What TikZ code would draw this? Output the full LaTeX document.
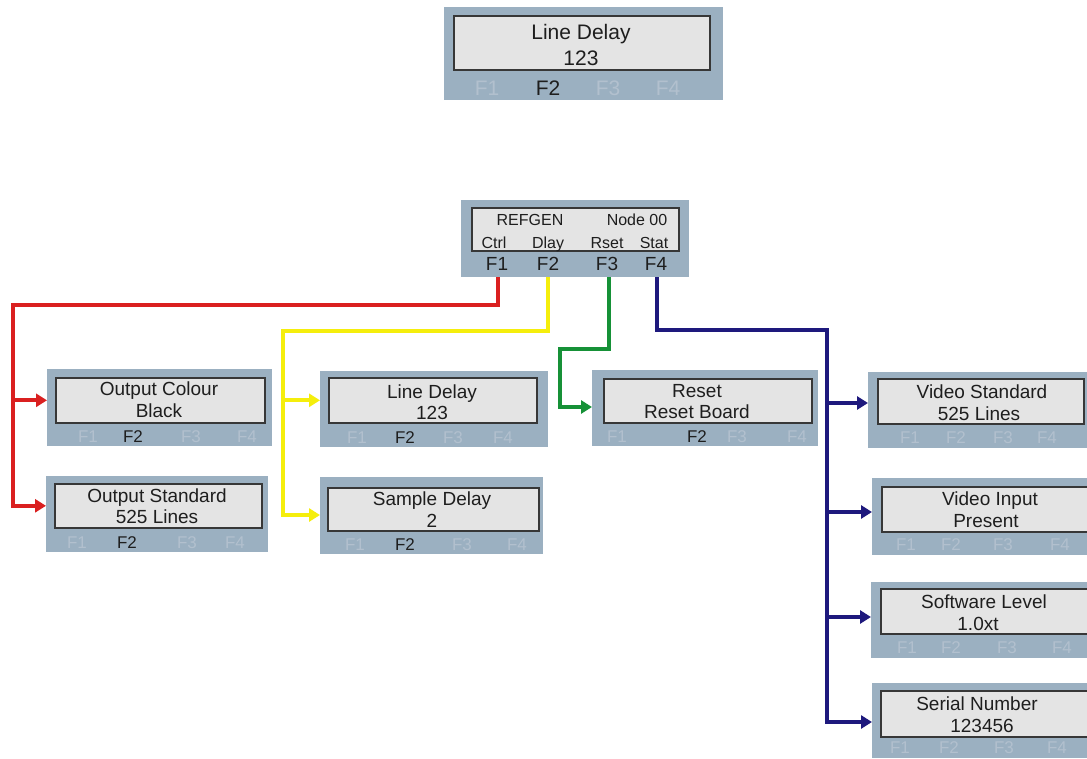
\documentclass[tikz,border=0pt]{standalone}
\usepackage{fontspec}
\setmainfont{Liberation Sans}
\usetikzlibrary{arrows.meta}
\definecolor{panelbg}{RGB}{155,176,193}
\definecolor{screenbg}{RGB}{228,228,228}
\definecolor{screenline}{RGB}{55,55,55}
\definecolor{textc}{RGB}{30,30,30}
\definecolor{fdim}{RGB}{178,192,206}
\definecolor{redc}{RGB}{218,32,32}
\definecolor{yelc}{RGB}{245,238,12}
\definecolor{grnc}{RGB}{22,145,55}
\definecolor{bluc}{RGB}{30,25,125}
\tikzset{
  outer/.style={fill=panelbg, draw=none, anchor=north west, inner sep=0pt},
  screen/.style={fill=screenbg, draw=screenline, line width=1.6pt, anchor=north west, inner sep=0pt},
  txt/.style={font=\fontsize{19}{19}\selectfont, text=textc, inner sep=0pt, anchor=base},
  bigtxt/.style={font=\fontsize{21}{21}\selectfont, text=textc, inner sep=0pt, anchor=base},
  fon/.style={font=\fontsize{17}{17}\selectfont, text=textc, inner sep=0pt, anchor=base},
  foff/.style={font=\fontsize{17}{17}\selectfont, text=fdim, inner sep=0pt, anchor=base},
  bigfon/.style={font=\fontsize{21}{21}\selectfont, text=textc, inner sep=0pt, anchor=base},
  bigfoff/.style={font=\fontsize{21}{21}\selectfont, text=fdim, inner sep=0pt, anchor=base},
  rgtxt/.style={font=\fontsize{16}{16}\selectfont, text=textc, inner sep=0pt, anchor=base},
  rgf/.style={font=\fontsize{19}{19}\selectfont, text=textc, inner sep=0pt, anchor=base},
  link/.style={line width=4pt, -{Triangle[length=11pt,width=13pt]}},
}
\newcommand\panelbox[9]{%
  \node[outer, minimum width=#4pt, minimum height=#5pt] (#1) at (#2,#3) {};
  \node[screen, minimum width=#8pt, minimum height=#9pt] (#1s) at (#6,#7) {};}
\begin{document}
\begin{tikzpicture}[x=1pt,y=-1pt]
\useasboundingbox (0,0) rectangle (1087,758);
\fill[white] (0,0) rectangle (1087,758);

% top panel
\panelbox{top}{444}{7}{279}{93}{453}{15}{256}{54}
\node[bigtxt] (topa) at (581,39) {Line Delay};
\node[bigtxt] (topb) at (581,65) {123};
\node[bigfoff] (topf1) at (487,95) {F1};
\node[bigfon] (topf2) at (548,95) {F2};
\node[bigfoff] (topf3) at (608,95) {F3};
\node[bigfoff] (topf4) at (668,95) {F4};

% REFGEN panel
\panelbox{rg}{461}{200}{228}{77}{471}{207}{207}{43}
\node[rgtxt] (rga) at (530,225) {REFGEN};
\node[rgtxt] (rgb) at (637,225) {Node 00};
\node[rgtxt] (rgc) at (494,248) {Ctrl};
\node[rgtxt] (rgd) at (548,248) {Dlay};
\node[rgtxt] (rge) at (607,248) {Rset};
\node[rgtxt] (rgg) at (654,248) {Stat};
\node[rgf] (rf1) at (497,270) {F1};
\node[rgf] (rf2) at (548,270) {F2};
\node[rgf] (rf3) at (607,270) {F3};
\node[rgf] (rf4) at (656,270) {F4};

% Output Colour
\panelbox{oc}{47}{369}{225}{77}{55}{377}{209}{45}
\node[txt] (oca) at (159,395) {Output Colour};
\node[txt] (ocb) at (159,417) {Black};
\node[foff] (ocf1) at (88,442) {F1};
\node[fon] (ocf2) at (133,442) {F2};
\node[foff] (ocf3) at (191,442) {F3};
\node[foff] (ocf4) at (247,442) {F4};

% Output Standard
\panelbox{os}{46}{476}{222}{76}{54}{483}{207}{44}
\node[txt] (osa) at (157,502) {Output Standard};
\node[txt] (osb) at (157,523) {525 Lines};
\node[foff] (osf1) at (77,548) {F1};
\node[fon] (osf2) at (127,548) {F2};
\node[foff] (osf3) at (187,548) {F3};
\node[foff] (osf4) at (235,548) {F4};

% Line Delay
\panelbox{ld}{320}{371}{228}{76}{328}{377}{208}{45}
\node[txt] (lda) at (432,398) {Line Delay};
\node[txt] (ldb) at (432,419) {123};
\node[foff] (ldf1) at (357,443) {F1};
\node[fon] (ldf2) at (405,443) {F2};
\node[foff] (ldf3) at (453,443) {F3};
\node[foff] (ldf4) at (503,443) {F4};

% Sample Delay
\panelbox{sd}{320}{477}{223}{77}{327}{487}{211}{43}
\node[txt] (sda) at (432,505) {Sample Delay};
\node[txt] (sdb) at (432,527) {2};
\node[foff] (sdf1) at (355,550) {F1};
\node[fon] (sdf2) at (405,550) {F2};
\node[foff] (sdf3) at (462,550) {F3};
\node[foff] (sdf4) at (517,550) {F4};

% Reset
\panelbox{rs}{592}{370}{226}{76}{603}{378}{208}{44}
\node[txt] (rsa) at (697,397) {Reset};
\node[txt] (rsb) at (697,418) {Reset Board};
\node[foff] (rsf1) at (617,442) {F1};
\node[fon] (rsf2) at (697,442) {F2};
\node[foff] (rsf3) at (737,442) {F3};
\node[foff] (rsf4) at (797,442) {F4};

% Video Standard
\panelbox{vs}{868}{372}{219}{76}{877}{378}{206}{45}
\node[txt] (vsa) at (982,398) {Video Standard};
\node[txt] (vsb) at (979,420) {525 Lines};
\node[foff] (vsf1) at (910,443) {F1};
\node[foff] (vsf2) at (956,443) {F2};
\node[foff] (vsf3) at (1003,443) {F3};
\node[foff] (vsf4) at (1047,443) {F4};

% Video Input
\panelbox{vi}{872}{478}{215}{77}{881}{486}{206}{45}
\node[txt] (via) at (990,505) {Video Input};
\node[txt] (vib) at (986,527) {Present};
\node[foff] (vif1) at (906,550) {F1};
\node[foff] (vif2) at (951,550) {F2};
\node[foff] (vif3) at (1003,550) {F3};
\node[foff] (vif4) at (1060,550) {F4};

% Software Level
\panelbox{sl}{871}{582}{216}{76}{880}{588}{207}{45}
\node[txt] (sla) at (984,608) {Software Level};
\node[txt] (slb) at (978,630) {1.0xt};
\node[foff] (slf1) at (907,653) {F1};
\node[foff] (slf2) at (951,653) {F2};
\node[foff] (slf3) at (1007,653) {F3};
\node[foff] (slf4) at (1062,653) {F4};

% Serial Number
\panelbox{sn}{872}{683}{215}{75}{880}{690}{207}{46}
\node[txt] (sna) at (977,710) {Serial Number};
\node[txt] (snb) at (982,732) {123456};
\node[foff] (snf1) at (900,753) {F1};
\node[foff] (snf2) at (949,753) {F2};
\node[foff] (snf3) at (1004,753) {F3};
\node[foff] (snf4) at (1057,753) {F4};

% connectors
\coordinate (rA) at (498,305);
\coordinate (rB) at (13,305);
\coordinate (yA) at (548,331);
\coordinate (yB) at (283,331);
\coordinate (gA) at (609,349);
\coordinate (gB) at (560,349);
\coordinate (bA) at (657,330);
\coordinate (bB) at (827,330);
\coordinate (b1) at (827,403);
\coordinate (b2) at (827,512);
\coordinate (b3) at (827,617);
\coordinate (b4) at (827,722);
\coordinate (g1) at (560,407);
\coordinate (y2) at (283,515);

\draw[link, redc] (rg.south -| rA) -- (rA) -- (rB) |- (os.west |- oss.center);
\draw[link, redc] (rB |- ocs.center) -- (oc.west |- ocs.center);

\draw[link, yelc] (rg.south -| yA) -- (yA) -- (yB) -- (y2) -- (sd.west |- y2);
\draw[link, yelc] (yB |- lds.center) -- (ld.west |- lds.center);

\draw[link, grnc] (rg.south -| gA) -- (gA) -- (gB) -- (g1) -- (rs.west |- g1);

\draw[link, bluc] (rg.south -| bA) -- (bA) -- (bB) -- (b4) -- (sn.west |- b4);
\draw[link, bluc] (b1) -- (vs.west |- b1);
\draw[link, bluc] (b2) -- (vi.west |- b2);
\draw[link, bluc] (b3) -- (sl.west |- b3);
\end{tikzpicture}
\end{document}
